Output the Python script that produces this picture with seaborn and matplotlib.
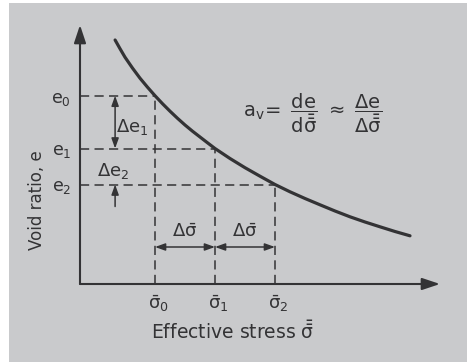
import matplotlib
matplotlib.use("Agg")
import matplotlib.pyplot as plt
from matplotlib.patches import Rectangle
import seaborn as sns
import pandas as pd

# Compression curve: effective stress vs. void ratio (schematic units)
stress = [1.17, 1.33, 1.50, 1.75, 2.00, 2.25, 2.50, 2.75, 3.00, 3.25, 3.50, 3.75,
          4.00, 4.25, 4.50, 5.00, 5.50, 6.00, 6.50, 7.00, 7.50, 8.00, 8.50, 9.00,
          9.50, 10.0, 10.5, 11.0]
void_ratio = [2.440, 2.355, 2.268, 2.159, 2.058, 1.968, 1.883, 1.803, 1.728, 1.657,
              1.590, 1.528, 1.470, 1.412, 1.355, 1.255, 1.163, 1.078, 0.995, 0.922,
              0.855, 0.792, 0.730, 0.672, 0.620, 0.572, 0.525, 0.482]

# Three loading states on the curve
sigma_levels = [2.5, 4.5, 6.5]
e_levels = [1.883, 1.355, 0.995]
sigma_labels = [r"$\bar{\sigma}_0$", r"$\bar{\sigma}_1$", r"$\bar{\sigma}_2$"]
e_labels = [r"$e_0$", r"$e_1$", r"$e_2$"]

x_title = r"Effective stress $\bar{\bar{\sigma}}$"
y_title = "Void ratio, e"
formula = (r"$a_v\!=\ \dfrac{de}{d\bar{\bar{\sigma}}}\ \approx\ "
           r"\dfrac{\Delta e}{\Delta\bar{\bar{\sigma}}}$")

sns.set_theme(style="white")
plt.rcParams["font.family"] = ["DejaVu Sans"]
plt.rcParams["mathtext.fontset"] = "dejavusans"
plt.rcParams["mathtext.default"] = "regular"

ink = "#333335"
paper = "#c9cacc"

fig = plt.figure(figsize=(4.67, 3.62), dpi=100, facecolor="white")
fig.patches.append(Rectangle((9 / 467, 0), 1, 359 / 362, transform=fig.transFigure,
                             facecolor=paper, edgecolor="none", zorder=-10))
ax = fig.add_axes([0, 0, 1, 1])
ax.set_facecolor("none")
ax.set_xlim(-80 / 30, (467 - 80) / 30)
ax.set_ylim((284 - 362) / 100, 284 / 100)
ax.axis("off")

df = pd.DataFrame({"stress": stress, "e": void_ratio})
sns.lineplot(data=df, x="stress", y="e", ax=ax, color=ink, linewidth=2.3,
             sort=False, estimator=None, solid_capstyle="round",
             solid_joinstyle="round")

# Coordinate axes with arrowheads
axis_arrow = dict(arrowstyle="-|>,head_length=0.9,head_width=0.3", color=ink,
                  lw=1.5, shrinkA=0, shrinkB=0)
ax.annotate("", xy=(0, 2.59), xytext=(0, 0), arrowprops=axis_arrow)
ax.annotate("", xy=(12.0, 0), xytext=(0, 0), arrowprops=axis_arrow)

# Dashed guides from each state to both axes
dash = dict(color=ink, lw=1.1, linestyle=(0, (6, 3.5)))
for s, e in zip(sigma_levels, e_levels):
    ax.plot([0, s], [e, e], **dash)
    ax.plot([s, s], [0, e], **dash)

# Void ratio labels and stress labels
for e, lab in zip(e_levels, e_labels):
    ax.text(-0.3, e - 0.03, lab, ha="right", va="center", fontsize=12.5, color=ink)
for s, lab in zip(sigma_levels, sigma_labels):
    ax.text(s + 0.1, -0.2, lab, ha="center", va="center", fontsize=13, color=ink)

# Dimension arrows
dim = dict(arrowstyle="<|-|>,head_length=0.5,head_width=0.18", color=ink, lw=1.1,
           shrinkA=0, shrinkB=0)
one = dict(arrowstyle="-|>,head_length=0.5,head_width=0.18", color=ink, lw=1.1,
           shrinkA=0, shrinkB=0)
x_de = 1.17
ax.annotate("", xy=(x_de, e_levels[0]), xytext=(x_de, e_levels[1]), arrowprops=dim)
ax.annotate("", xy=(x_de, e_levels[2]), xytext=(x_de, e_levels[2] - 0.22), arrowprops=one)
y_ds = 0.37
ax.annotate("", xy=(sigma_levels[0], y_ds), xytext=(sigma_levels[1], y_ds), arrowprops=dim)
ax.annotate("", xy=(sigma_levels[1], y_ds), xytext=(sigma_levels[2], y_ds), arrowprops=dim)

ax.text(1.2, 1.57, r"$\Delta e_1$", ha="left", va="center", fontsize=13, color=ink)
ax.text(1.1, 1.13, r"$\Delta e_2$", ha="center", va="center", fontsize=13, color=ink)
for a, b in zip(sigma_levels[:-1], sigma_levels[1:]):
    ax.text((a + b) / 2, 0.52, r"$\Delta\bar{\sigma}$", ha="center", va="center",
            fontsize=13, color=ink)

ax.text(5.43, 1.71, formula, ha="left", va="center", fontsize=14, color=ink)

ax.text(5.1, -0.48, x_title, ha="center", va="center", fontsize=13.5, color=ink)
ax.text(-1.43, 0.84, y_title, ha="center", va="center", rotation=90, fontsize=12,
        color=ink)

fig.savefig("out.png", dpi=100, facecolor="white")
